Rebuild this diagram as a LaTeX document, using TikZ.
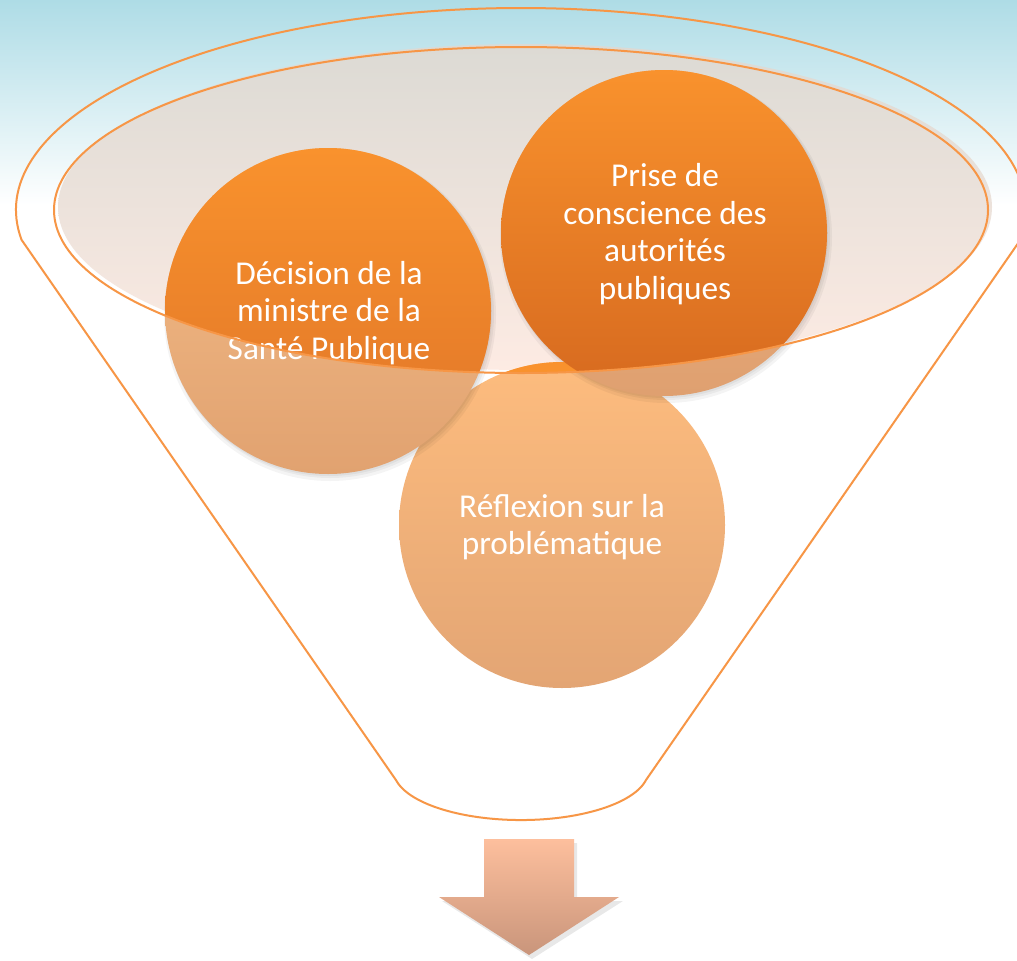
\documentclass[tikz,border=0pt]{standalone}
\usepackage{fontspec}
\setmainfont{Carlito}
\definecolor{bgblue}{HTML}{AEDCE6}
\definecolor{fline}{HTML}{F79646}
\definecolor{ellgray}{HTML}{DCDAD4}
\definecolor{ellpeach}{HTML}{FDEBE3}
\definecolor{brtop}{HTML}{F9922D}
\definecolor{decbot}{HTML}{DF7428}
\definecolor{pribot}{HTML}{D6691F}
\definecolor{declt}{HTML}{F5BE8A}
\definecolor{declb}{HTML}{E1A270}
\definecolor{prilt}{HTML}{F0B585}
\definecolor{prilb}{HTML}{DFA070}
\definecolor{reflt}{HTML}{FDBC7E}
\definecolor{reflb}{HTML}{E3A574}
\definecolor{arrtop}{HTML}{FDBF9D}
\definecolor{arrbot}{HTML}{C9957B}
\tikzset{
  funnelline/.style={draw=fline, line width=1.5pt, line join=round},
  circtext/.style={text=white, align=center, inner sep=0pt,
    font=\fontsize{25}{28.1}\selectfont},
  softshadow/.style={fill=black, opacity=0.045}
}
\begin{document}
\begin{tikzpicture}[x=0.75pt,y=-0.75pt]
\clip (0,0) rectangle (1017,960);
\fill[white] (0,0) rectangle (1017,960);
\shade[top color=bgblue, bottom color=white] (0,0) rectangle (1017,205);
% outer funnel outline
\draw[funnelline] ({521+505*cos(171.5)},{210+202*sin(171.5)})
  arc[start angle=171.5, end angle=368.5, x radius=505, y radius=202]
  -- (646,780)
  arc[start angle=11.5, end angle=168.5, x radius=127.6, y radius=50]
  -- cycle;
% inner ellipse fill
\shade[top color=ellgray, middle color=ellpeach, bottom color=ellpeach]
  (525,207) ellipse [x radius=467, y radius=163];
% circle centres
\coordinate (cd) at (328,311);
\coordinate (cp) at (664,233);
\coordinate (cr) at (562,525);
% Reflexion circle
\shade[top color=reflt, bottom color=reflb] (cr) circle (163);
% soft shadows of upper circles
\foreach \c in {cd,cp}{
  \fill[softshadow] ([shift={(2,4)}]\c) circle (166);
  \fill[softshadow] ([shift={(2,3)}]\c) circle (164);
  \fill[softshadow] ([shift={(1,2)}]\c) circle (163);
}
\shade[top color=declt, bottom color=declb] (cd) circle (163);
\shade[top color=prilt, bottom color=prilb] (cp) circle (163);
% parts inside the funnel mouth
\begin{scope}
  \clip (521,210) ellipse [x radius=467, y radius=163];
  \fill[brtop] (cr) circle (163);
  \shade[top color=brtop, bottom color=decbot] (cd) circle (163);
  \shade[top color=brtop, bottom color=pribot] (cp) circle (163);
\end{scope}
% texts
\node[circtext] (dec) at (329,313) {Décision de la\\ministre de la\\Santé Publique};
\node[circtext] (pri) at (665,234) {Prise de\\conscience des\\autorités\\publiques};
\node[circtext] (ref) at (562,527) {Réflexion sur la\\problématique};
% inner ellipse outline
\draw[funnelline] (521,210) ellipse [x radius=467, y radius=163];
% arrow
\fill[black, opacity=0.09] (487,843) -- (577,843) -- (577,901) -- (623,901)
  -- (532,959) -- (442,901) -- (487,901) -- cycle;
\shade[top color=arrtop, bottom color=arrbot] (484,839) -- (574,839) -- (574,897)
  -- (619,897) -- (529,955) -- (439,897) -- (484,897) -- cycle;
\end{tikzpicture}
\end{document}
